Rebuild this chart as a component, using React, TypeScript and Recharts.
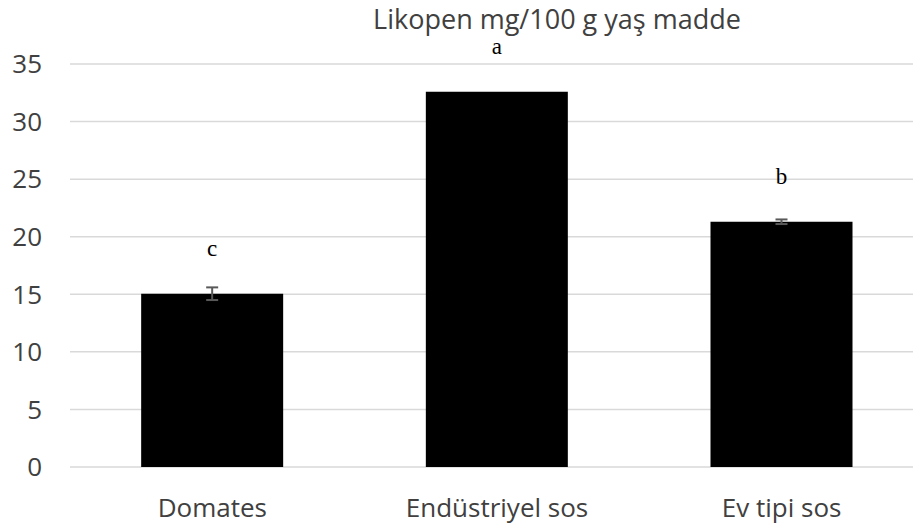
import React from 'react';
import { BarChart, Bar, XAxis, YAxis, CartesianGrid, ErrorBar, LabelList } from 'recharts';

const categories = ['Domates', 'Endüstriyel sos', 'Ev tipi sos'];
const likopen = [15.05, 32.6, 21.3];
const errors = [0.55, 0, 0.2];
const letters = ['c', 'a', 'b'];
const yTicks = [0, 5, 10, 15, 20, 25, 30, 35];

const data = categories.map((name, i) => ({
  name,
  value: likopen[i],
  err: errors[i],
  letter: letters[i],
}));

const font = '"Open Sans", Lato, sans-serif';

const App: React.FC = () => {
  return (
    <div style={{ position: 'absolute', left: 0, top: 0, width: 913, height: 532, overflow: 'hidden', background: '#fff' }}>
      <div
        style={{
          position: 'absolute',
          top: 0,
          left: 357,
          width: 400,
          textAlign: 'center',
          fontFamily: font,
          fontSize: 27,
          color: '#404040',
          whiteSpace: 'nowrap',
        }}
      >
        Likopen mg/100 g yaş madde
      </div>
      <BarChart
        width={930}
        height={532}
        data={data}
        margin={{ top: 64, right: 6, bottom: 0, left: 0 }}
        barCategoryGap="25%"
      >
        <CartesianGrid vertical={false} stroke="#d9d9d9" strokeWidth={1.5} />
        <XAxis
          dataKey="name"
          axisLine={false}
          tickLine={false}
          height={65}
          tickSize={0}
          tickMargin={32}
          tick={{ fill: '#404040', fontSize: 26, fontFamily: font }}
        />
        <YAxis
          domain={[0, 35]}
          ticks={yTicks}
          axisLine={false}
          tickLine={false}
          width={70}
          tickSize={0}
          tickMargin={28}
          tick={{ fill: '#404040', fontSize: 26, fontFamily: font }}
        />
        <Bar dataKey="value" fill="#000000" isAnimationActive={false}>
          <ErrorBar dataKey="err" width={6} stroke="#595959" strokeWidth={2} />
          <LabelList
            dataKey="letter"
            position="top"
            offset={38}
            fill="#000"
            fontSize={23}
            fontFamily='"Liberation Serif", "DejaVu Serif", serif'
          />
        </Bar>
      </BarChart>
    </div>
  );
};

export default App;
